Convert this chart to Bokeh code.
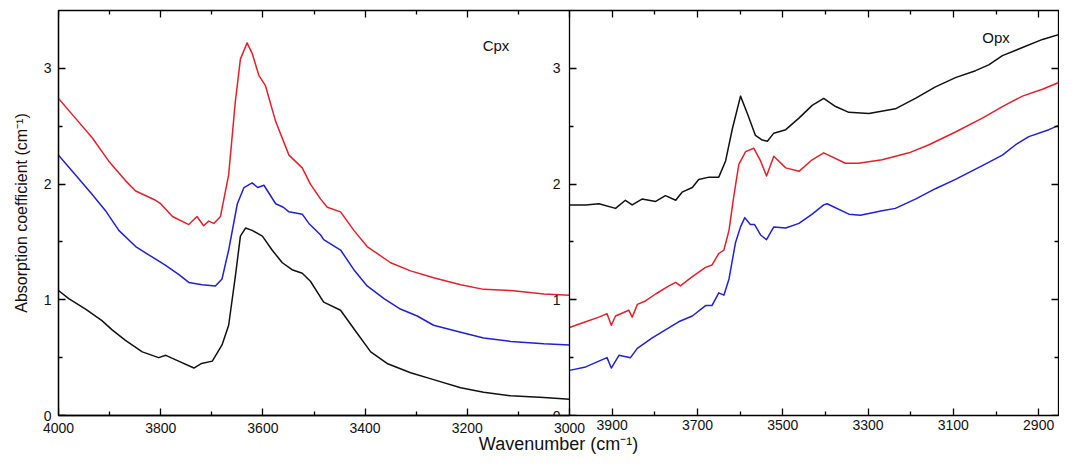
from bokeh.plotting import figure
from bokeh.models import Range1d, LinearAxis, FixedTicker, CustomJSTickFormatter, Label
from bokeh.embed import file_html
from bokeh.resources import INLINE

# ---------------- data ----------------
cpx_red_x = [4000, 3967, 3934, 3902, 3869, 3849, 3810, 3800, 3777, 3745, 3729, 3716, 3706, 3696, 3683,
             3667, 3654, 3644, 3631, 3621, 3608, 3595, 3575, 3549, 3523, 3507, 3487, 3474, 3448, 3422,
             3396, 3350, 3311, 3266, 3213, 3168, 3115, 3050, 3000]
cpx_red_y = [2.74, 2.57, 2.40, 2.20, 2.03, 1.94, 1.86, 1.83, 1.72, 1.65, 1.72, 1.64, 1.68, 1.66, 1.72,
             2.08, 2.71, 3.08, 3.22, 3.13, 2.94, 2.85, 2.54, 2.25, 2.14, 2.00, 1.87, 1.80, 1.76, 1.60,
             1.46, 1.32, 1.25, 1.19, 1.13, 1.09, 1.08, 1.05, 1.04]

cpx_blue_x = [4000, 3967, 3934, 3908, 3882, 3849, 3817, 3791, 3765, 3745, 3719, 3693, 3680, 3667, 3650,
              3637, 3621, 3610, 3598, 3575, 3560, 3549, 3523, 3510, 3487, 3481, 3448, 3422, 3396, 3363,
              3331, 3298, 3266, 3213, 3168, 3115, 3050, 3000]
cpx_blue_y = [2.25, 2.08, 1.91, 1.77, 1.60, 1.46, 1.37, 1.30, 1.22, 1.15, 1.13, 1.12, 1.18, 1.43, 1.83,
              1.97, 2.01, 1.97, 1.99, 1.83, 1.80, 1.76, 1.74, 1.66, 1.56, 1.52, 1.43, 1.26, 1.12, 1.01,
              0.92, 0.86, 0.78, 0.72, 0.67, 0.64, 0.62, 0.61]

cpx_black_x = [4000, 3980, 3947, 3915, 3895, 3869, 3836, 3804, 3790, 3765, 3735, 3720, 3699, 3680, 3667,
               3654, 3644, 3634, 3621, 3601, 3582, 3562, 3543, 3523, 3507, 3487, 3481, 3448, 3422, 3389,
               3357, 3311, 3266, 3213, 3168, 3115, 3050, 3000]
cpx_black_y = [1.08, 1.01, 0.92, 0.82, 0.74, 0.65, 0.55, 0.50, 0.52, 0.47, 0.41, 0.45, 0.47, 0.61, 0.78,
               1.20, 1.55, 1.62, 1.60, 1.55, 1.43, 1.32, 1.26, 1.23, 1.16, 1.02, 0.98, 0.91, 0.75, 0.55,
               0.45, 0.37, 0.31, 0.24, 0.20, 0.17, 0.155, 0.14]

opx_black_x = [4000, 3962, 3931, 3892, 3869, 3853, 3830, 3798, 3775, 3751, 3736, 3712, 3697, 3673, 3650,
               3634, 3618, 3599, 3583, 3564, 3548, 3536, 3521, 3493, 3462, 3431, 3404, 3376, 3345, 3298,
               3236, 3189, 3142, 3095, 3048, 3017, 2985, 2938, 2891, 2845, 2817]
opx_black_y = [1.82, 1.82, 1.83, 1.79, 1.86, 1.82, 1.87, 1.85, 1.90, 1.86, 1.93, 1.97, 2.04, 2.06, 2.06,
               2.20, 2.48, 2.76, 2.61, 2.42, 2.38, 2.37, 2.44, 2.47, 2.57, 2.68, 2.74, 2.67, 2.62, 2.61,
               2.65, 2.74, 2.84, 2.92, 2.98, 3.03, 3.11, 3.18, 3.25, 3.30, 3.33]

opx_red_x = [4000, 3962, 3931, 3912, 3902, 3892, 3861, 3853, 3841, 3822, 3798, 3767, 3751, 3740, 3712,
             3681, 3666, 3650, 3638, 3626, 3615, 3603, 3587, 3568, 3552, 3538, 3521, 3493, 3462, 3431,
             3404, 3353, 3322, 3267, 3204, 3157, 3095, 3032, 2985, 2938, 2891, 2845, 2817]
opx_red_y = [0.76, 0.81, 0.85, 0.88, 0.78, 0.86, 0.91, 0.85, 0.96, 0.99, 1.05, 1.12, 1.15, 1.12, 1.20,
             1.28, 1.30, 1.40, 1.43, 1.60, 1.89, 2.17, 2.28, 2.31, 2.20, 2.07, 2.24, 2.14, 2.11, 2.21,
             2.27, 2.18, 2.18, 2.21, 2.27, 2.34, 2.45, 2.57, 2.67, 2.76, 2.82, 2.89, 2.94]

opx_blue_x = [4000, 3962, 3931, 3912, 3902, 3884, 3857, 3841, 3806, 3775, 3744, 3712, 3681, 3666, 3650,
              3638, 3626, 3611, 3599, 3589, 3576, 3566, 3552, 3538, 3521, 3493, 3462, 3431, 3404, 3396,
              3345, 3318, 3267, 3236, 3189, 3142, 3095, 3032, 2985, 2954, 2923, 2876, 2845, 2817]
opx_blue_y = [0.39, 0.42, 0.47, 0.50, 0.41, 0.52, 0.50, 0.58, 0.67, 0.74, 0.81, 0.86, 0.95, 0.95, 1.06,
              1.04, 1.18, 1.49, 1.63, 1.71, 1.65, 1.65, 1.56, 1.52, 1.63, 1.62, 1.66, 1.74, 1.82, 1.83,
              1.74, 1.73, 1.77, 1.79, 1.87, 1.96, 2.04, 2.16, 2.25, 2.34, 2.41, 2.47, 2.52, 2.56]

cpx_ticks = [4000, 3800, 3600, 3400, 3200, 3000]
cpx_minor = [3900, 3700, 3500, 3300, 3100]
opx_ticks = [3900, 3700, 3500, 3300, 3100, 2900]
opx_minor = [3800, 3600, 3400, 3200, 3000]
y_ticks = [0, 1, 2, 3]
y_minor = [0.5, 1.5, 2.5]

x_title = "Wavenumber (cm\u207b\u00b9)"
y_title = "Absorption coefficient (cm\u207b\u00b9)"
panel_labels = ["Cpx", "Opx"]

# ---------------- layout ----------------
W, H = 1059, 460
BL, BR, BT, BB = 58, 1, 10, 45
FW = W - BL - BR
LEFT_W = 511            # pixel width of the Cpx panel
PX_CPX = 0.511          # px per wavenumber, Cpx panel
PX_OPX = 0.4265         # px per wavenumber, Opx panel
X0 = 4000.0
X_SPLIT = 3000.0
YMAX = 3.5
x_end = X0 - FW / PX_CPX
opx_start = X0 + LEFT_W / PX_OPX
opx_end = X0 - (FW - LEFT_W) / PX_OPX

FONT = "Liberation Sans"
RED, BLUE, BLACK = "#e3202a", "#2020d4", "#111111"
TXT = "#111111"
TICK_LBL_H = 16         # height of a 14px tick label row
LBL_STANDOFF = 7

p = figure(width=W, height=H, x_range=Range1d(X0, x_end), y_range=Range1d(0, YMAX),
           output_backend="svg", toolbar_location=None,
           min_border_left=BL, min_border_right=BR, min_border_top=BT, min_border_bottom=BB)
p.extra_x_ranges = {"opx": Range1d(opx_start, opx_end)}
p.grid.visible = False
p.outline_line_color = "black"
p.outline_line_width = 1.3
p.background_fill_color = "white"
p.border_fill_color = "white"

blank = CustomJSTickFormatter(code="return ''")


def label_axis(ax, ticks, standoff, line=True):
    ax.ticker = FixedTicker(ticks=ticks)
    ax.major_tick_in = 0
    ax.major_tick_out = 0
    ax.minor_tick_in = 0
    ax.minor_tick_out = 0
    ax.axis_line_color = "black" if line else None
    ax.axis_line_width = 1.3
    ax.major_label_text_font = FONT
    ax.major_label_text_font_size = "14px"
    ax.major_label_text_color = TXT
    ax.major_label_standoff = standoff


def tick_axis(side, loc, ticks, minor, x_range_name="default"):
    # helper axis that only draws tick marks pointing into the frame
    ax = LinearAxis(fixed_location=loc, x_range_name=x_range_name)
    ax.ticker = FixedTicker(ticks=ticks, minor_ticks=minor)
    ax.formatter = blank
    ax.axis_line_color = None
    ax.major_tick_in = 0
    ax.major_tick_out = 7
    ax.minor_tick_in = 0
    ax.minor_tick_out = 4
    ax.major_tick_line_color = "black"
    ax.minor_tick_line_color = "black"
    ax.major_tick_line_width = 1.3
    ax.minor_tick_line_width = 1.3
    ax.major_label_standoff = 0
    p.add_layout(ax, side)


# bottom labels, Cpx panel (innermost below axis)
xb = p.xaxis[0]
label_axis(xb, cpx_ticks, LBL_STANDOFF)
xb.bounds = (X_SPLIT, X0)

# bottom labels, Opx panel: outer axis pulled up onto the same row; carries the x title
xo = LinearAxis(x_range_name="opx")
label_axis(xo, opx_ticks, -TICK_LBL_H, line=False)
xo.axis_label = x_title
xo.axis_label_text_font = FONT
xo.axis_label_text_font_size = "18px"
xo.axis_label_text_font_style = "normal"
xo.axis_label_text_color = TXT
xo.axis_label_standoff = 1
p.add_layout(xo, "below")

# left labels
yl = p.yaxis[0]
label_axis(yl, y_ticks, 7)
yl.axis_label = y_title
yl.axis_label_text_font = FONT
yl.axis_label_text_font_size = "16px"
yl.axis_label_text_font_style = "normal"
yl.axis_label_text_color = TXT
yl.axis_label_standoff = 11

# y axis of the Opx panel, at the panel junction (labels fall inside the Cpx panel)
ym = LinearAxis(fixed_location=X_SPLIT)
label_axis(ym, y_ticks, 9)
p.add_layout(ym, "left")

# inward tick marks on every panel edge
tick_axis("above", 0.0, cpx_ticks, cpx_minor)
tick_axis("above", 0.0, opx_ticks, opx_minor, "opx")
tick_axis("below", YMAX, cpx_ticks, cpx_minor)
tick_axis("below", YMAX, opx_ticks, opx_minor, "opx")
tick_axis("right", X0, y_ticks, y_minor)
tick_axis("right", X_SPLIT, y_ticks, y_minor)
tick_axis("left", x_end, y_ticks, y_minor)

# ---------------- curves ----------------
p.line(cpx_red_x, cpx_red_y, line_color=RED, line_width=1.5, line_join="round")
p.line(cpx_blue_x, cpx_blue_y, line_color=BLUE, line_width=1.5, line_join="round")
p.line(cpx_black_x, cpx_black_y, line_color=BLACK, line_width=1.5, line_join="round")
p.line(opx_black_x, opx_black_y, line_color=BLACK, line_width=1.5, line_join="round", x_range_name="opx")
p.line(opx_red_x, opx_red_y, line_color=RED, line_width=1.5, line_join="round", x_range_name="opx")
p.line(opx_blue_x, opx_blue_y, line_color=BLUE, line_width=1.5, line_join="round", x_range_name="opx")

p.add_layout(Label(x=3170, y=3.20, text=panel_labels[0], text_font=FONT, text_font_size="15px",
                   text_color=TXT, text_baseline="alphabetic"))
p.add_layout(Label(x=3032, y=3.27, text=panel_labels[1], text_font=FONT, text_font_size="15px",
                   text_color=TXT, text_baseline="alphabetic", x_range_name="opx"))

open("out.html", "w").write(file_html(p, INLINE))
